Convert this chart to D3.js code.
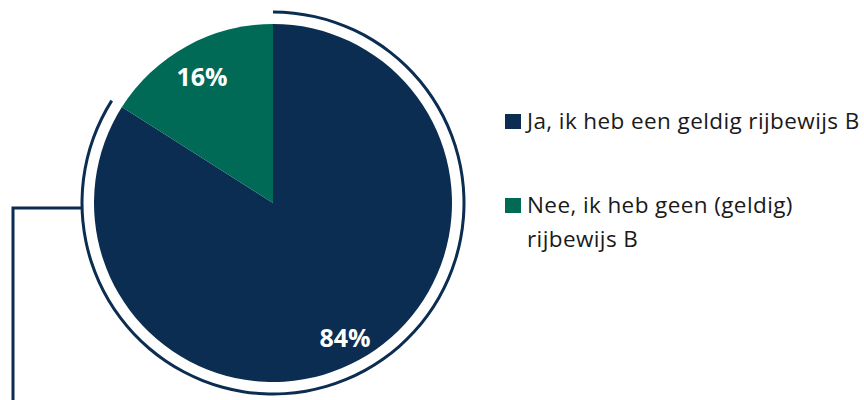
<!DOCTYPE html>
<html>
<head>
<meta charset="utf-8">
<script src="https://cdn.jsdelivr.net/npm/d3@7"></script>
<style>
  body { margin: 0; background: #fff; }
  svg { display: block; }
</style>
</head>
<body>
<svg id="chart" width="864" height="400"></svg>
<script>
var categories = ["Ja, ik heb een geldig rijbewijs B", "Nee, ik heb geen (geldig) rijbewijs B"];
var values = [84, 16];
var colors = ["#0b2d51", "#006a57"];
var legendLines = [["Ja, ik heb een geldig rijbewijs B"], ["Nee, ik heb geen (geldig)", "rijbewijs B"]];

var svg = d3.select("#chart");
var cx = 273, cy = 203, r = 179, rOuter = 191;

var pie = d3.pie().sort(null).value(function(d) { return d; });
var arcs = pie(values);
var arc = d3.arc().innerRadius(0).outerRadius(r);

var g = svg.append("g").attr("transform", "translate(" + cx + "," + cy + ")");

g.selectAll("path.slice")
  .data(arcs)
  .enter().append("path")
  .attr("class", "slice")
  .attr("d", arc)
  .attr("fill", function(d, i) { return colors[i]; });

// outer bracket arc around the biggest slice
var ring = d3.arc().innerRadius(rOuter - 1.5).outerRadius(rOuter + 1.5);
g.append("path")
  .attr("d", ring({ startAngle: arcs[0].startAngle, endAngle: arcs[0].endAngle }))
  .attr("fill", colors[0]);

// connector line going off the chart
var lx = 13, ly = 208;
svg.append("path")
  .attr("d", "M" + (cx - Math.sqrt(rOuter * rOuter - (ly - cy) * (ly - cy))) + "," + ly + "H" + lx + "V400")
  .attr("fill", "none")
  .attr("stroke", colors[0])
  .attr("stroke-width", 3);

// percent labels
var labelPos = [[72, 134], [-71, -127]];
g.selectAll("text.pct")
  .data(arcs)
  .enter().append("text")
  .attr("class", "pct")
  .attr("x", function(d, i) { return labelPos[i][0]; })
  .attr("y", function(d, i) { return labelPos[i][1]; })
  .attr("text-anchor", "middle")
  .attr("dominant-baseline", "central")
  .attr("fill", "#fff")
  .attr("font-family", "Open Sans, sans-serif")
  .attr("font-weight", "bold")
  .attr("font-size", 25)
  .text(function(d) { return d.data + "%"; });

// legend
var legend = svg.append("g").attr("transform", "translate(505,0)");
var rowY = [129, 213];
legendLines.forEach(function(lines, i) {
  legend.append("rect")
    .attr("x", 0).attr("y", rowY[i] - 15)
    .attr("width", 16).attr("height", 15)
    .attr("fill", colors[i]);
  var t = legend.append("text")
    .attr("x", 22).attr("y", rowY[i])
    .attr("font-family", "Open Sans, sans-serif")
    .attr("font-size", 22.5)
    .attr("letter-spacing", 0.4)
    .attr("fill", "#1a1a1a");
  lines.forEach(function(line, j) {
    t.append("tspan").attr("x", 22).attr("dy", j === 0 ? 0 : 34).text(line);
  });
});
</script>
</body>
</html>
